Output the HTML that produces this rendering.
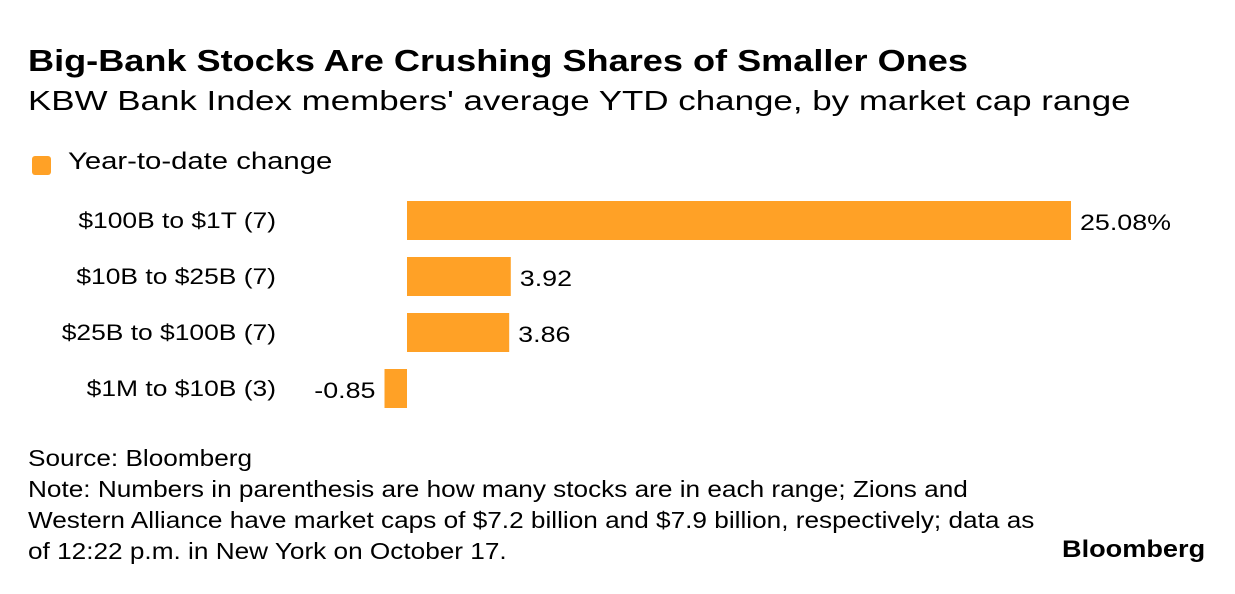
<!DOCTYPE html>
<html><head><meta charset="utf-8"><style>
body{margin:0;background:#fff;width:1235px;height:594px;overflow:hidden;font-family:"Liberation Sans",sans-serif;color:#000}
.t{position:absolute;white-space:nowrap;transform-origin:0 0}
</style></head><body>
<div class="t" style="left:28px;top:43px;font-size:31px;font-weight:bold;transform:scaleX(1.165)">Big-Bank Stocks Are Crushing Shares of Smaller Ones</div>
<div class="t" style="left:28px;top:85px;font-size:28px;transform:scaleX(1.247)">KBW Bank Index members' average YTD change, by market cap range</div>
<div class="t" style="left:32px;top:156px;width:19px;height:19px;background:#ffa126;border-radius:3px"></div>
<div class="t" style="left:68px;top:148px;font-size:24px;transform:scaleX(1.22)">Year-to-date change</div>
<svg id="c" width="1235" height="594" style="position:absolute;left:0;top:0"></svg>
<div class="t" style="left:28px;top:443px;font-size:23px;line-height:31px;transform:scaleX(1.138)">Source: Bloomberg<br>Note: Numbers in parenthesis are how many stocks are in each range; Zions and<br>Western Alliance have market caps of $7.2 billion and $7.9 billion, respectively; data as<br>of 12:22 p.m. in New York on October 17.</div>
<div class="t" style="left:1062px;top:536px;font-size:24px;font-weight:bold;transform:scaleX(1.13)">Bloomberg</div>
<script>
const categories=["$100B to $1T (7)","$10B to $25B (7)","$25B to $100B (7)","$1M to $10B (3)"];
const values=[25.08,3.92,3.86,-0.85];
const valueLabels=["25.08%","3.92","3.86","-0.85"];
const svg=document.getElementById('c');const NS='http://www.w3.org/2000/svg';
const x0=407,k=664/25.08;
const xs=v=>x0+v*k;
const ys=i=>201+i*56;
function stretch(t,f){const w=t.getComputedTextLength();t.setAttribute('textLength',w*f);t.setAttribute('lengthAdjust','spacingAndGlyphs');}
categories.forEach((c,i)=>{
 const v=values[i];const y=ys(i);
 const r=document.createElementNS(NS,'rect');
 
 
 r.setAttribute('x',Math.min(xs(0),xs(v)));r.setAttribute('y',y);
 r.setAttribute('width',Math.abs(xs(v)-xs(0)));r.setAttribute('height',39);r.setAttribute('fill','#ffa126');
 svg.appendChild(r);
 const l=document.createElementNS(NS,'text');
 
 
 l.setAttribute('x',276);l.setAttribute('y',y+27);l.setAttribute('text-anchor','end');
 l.setAttribute('font-size','22');l.textContent=c;svg.appendChild(l);stretch(l,1.2);
 const t=document.createElementNS(NS,'text');
 
 
 const neg=v<0;
 t.setAttribute('x',neg?xs(v)-9:xs(v)+9);t.setAttribute('y',y+29);
 t.setAttribute('text-anchor',neg?'end':'start');
 t.setAttribute('font-size','22');t.textContent=valueLabels[i];svg.appendChild(t);stretch(t,1.22);
});
</script>
</body></html>
